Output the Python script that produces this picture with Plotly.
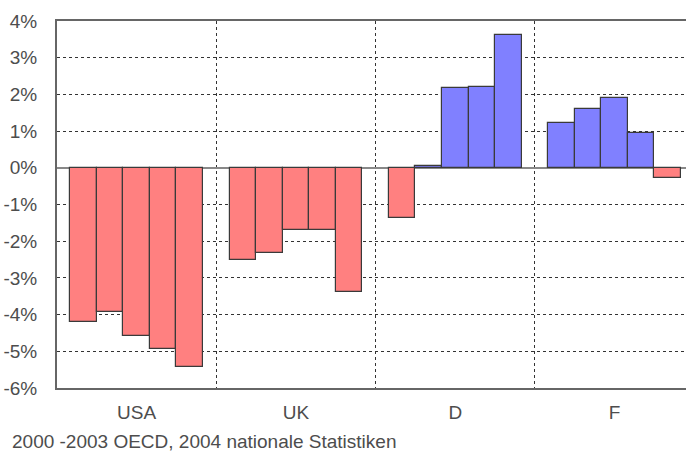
import plotly.graph_objects as go

countries = ["USA", "UK", "D", "F"]
years = ["2000", "2001", "2002", "2003", "2004"]
usa = [-4.2, -3.93, -4.57, -4.95, -5.42]
uk = [-2.52, -2.33, -1.7, -1.7, -3.38]
de = [-1.36, 0.05, 2.17, 2.2, 3.62]
fr = [1.23, 1.61, 1.89, 0.96, -0.28]
series = [usa, uk, de, fr]
y_ticks = [4, 3, 2, 1, 0, -1, -2, -3, -4, -5, -6]
footnote = "2000 -2003 OECD, 2004 nationale Statistiken"

RED = "#ff8080"
BLUE = "#8080ff"
GROUP = 6  # slots per country group (5 bars + gap)

xs, ys, cols, hov = [], [], [], []
for g, vals in enumerate(series):
    for i, v in enumerate(vals):
        xs.append(GROUP * g + 1 + i)
        ys.append(v)
        cols.append(BLUE if v >= 0 else RED)
        hov.append(f"{countries[g]} {years[i]}: {v:.1f}%")

fig = go.Figure()
fig.add_trace(go.Bar(
    x=xs, y=ys, width=1,
    marker=dict(color=cols, line=dict(color="#3a3a3a", width=1.2)),
    hovertext=hov, hoverinfo="text", showlegend=False,
))

centers = [GROUP * g + GROUP / 2 for g in range(len(countries))]
dividers = [GROUP * g for g in range(1, len(countries))]

fig.update_layout(
    width=686, height=454,
    margin=dict(l=57, r=0, t=21, b=66, autoexpand=False),
    paper_bgcolor="white", plot_bgcolor="white",
    font=dict(family="Liberation Sans, Arial, sans-serif", size=19, color="#4d4d4d"),
    bargap=0,
    xaxis=dict(
        range=[0, 629 / 26.55],
        tickmode="array", tickvals=centers, ticktext=countries,
        showgrid=False, zeroline=False,
        ticks="", ticklabelstandoff=6,
        showline=True, linecolor="#666666", linewidth=2, mirror=True,
        minor=dict(tickmode="array", tickvals=dividers, showgrid=True,
                   gridcolor="#333333", gridwidth=1, griddash="dot", ticks=""),
        fixedrange=True,
    ),
    yaxis=dict(
        range=[-6, 4],
        tickmode="array", tickvals=y_ticks,
        ticktext=[f"{t}%" for t in y_ticks],
        tickfont=dict(size=19),
        showgrid=True, gridcolor="#333333", gridwidth=1, griddash="3px,3px",
        zeroline=True, zerolinecolor="#888888", zerolinewidth=2,
        showline=True, linecolor="#666666", linewidth=2,
        ticks="", ticklabelstandoff=14,
        fixedrange=True,
    ),
    annotations=[dict(
        text=footnote, xref="paper", yref="paper",
        x=(10 - 57) / 629, y=(388 - 441) / 367,
        xanchor="left", yanchor="middle", showarrow=False,
        font=dict(size=19, color="#4d4d4d"),
    )],
)

# remove the browser's default 8px body margin so the figure fills the window
fig.write_html("out.html", config={"displayModeBar": False},
               post_script="document.body.style.margin='0';")
